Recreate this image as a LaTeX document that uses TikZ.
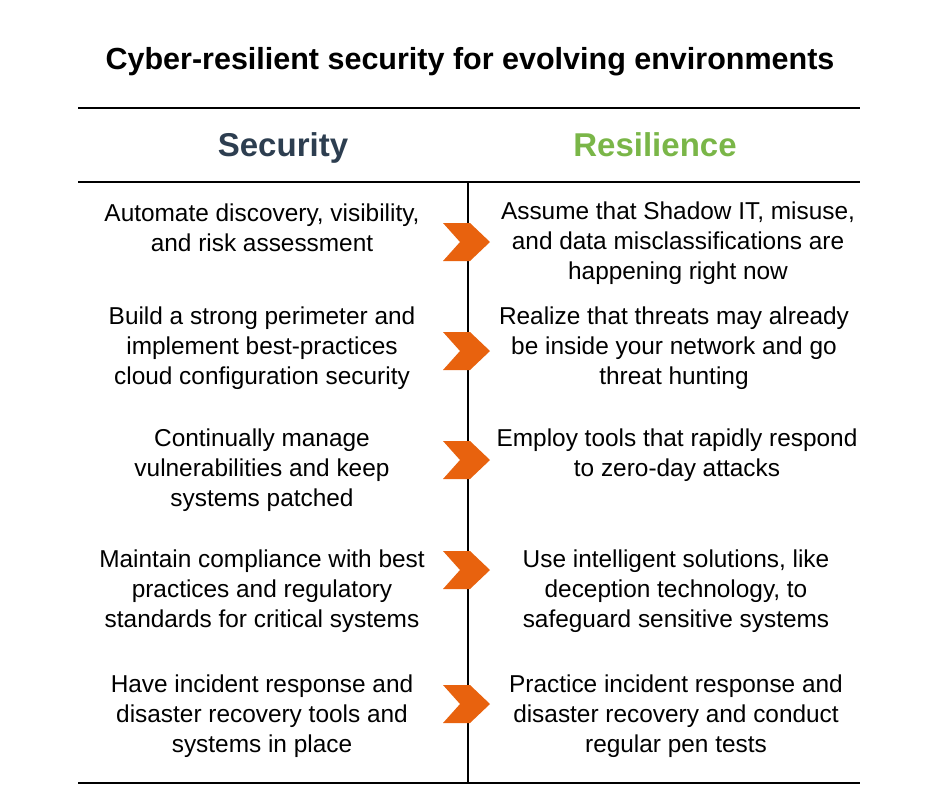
\documentclass[tikz,border=0pt]{standalone}
\usepackage{fontspec}
\setmainfont{Liberation Sans}
\definecolor{navy}{HTML}{2D3E50}
\definecolor{leaf}{HTML}{7AB648}
\definecolor{chev}{HTML}{E8620E}
\begin{document}
\begin{tikzpicture}[x=1pt,y=-1pt,
  body/.style={align=center,font=\fontsize{24.4}{30}\selectfont,inner sep=0pt},
  head/.style={font=\fontsize{33}{36}\selectfont\bfseries,anchor=base},
  rule/.style={line width=1.3pt,black},
  chevron/.style={fill=chev,draw=none}]
\useasboundingbox (0,0) rectangle (940,788);
\node[font=\fontsize{30.5}{34}\selectfont\bfseries] (title) at (470,62) {Cyber-resilient security for evolving environments};
\draw[rule] (78,108) coordinate (t1) -- (860,108) coordinate (t2);
\draw[rule] (78,182) coordinate (m1) -- (860,182) coordinate (m2);
\draw[rule] (78,783) coordinate (b1) -- (860,783) coordinate (b2);
\draw[line width=1.3pt] (468,182) coordinate (v1) -- (468,783) coordinate (v2);
\node[head,text=navy] (sec) at (283,156) {Security};
\node[head,text=leaf] (res) at (655,156) {Resilience};
\foreach \y/\n in {242/c1,351/c2,460/c3,570/c4,704/c5}{
  \fill[chevron] (443,\y-19) -- (470,\y-19) -- (490,\y) -- (470,\y+19) -- (443,\y+19) -- (460,\y) -- cycle;
}
\node[body] (l1) at (262,228) {Automate discovery, visibility,\\and risk assessment};
\node[body] (r1) at (678,243) {Assume that Shadow IT, misuse,\\and data misclassifications are\\happening right now};
\node[body] (l2) at (262,348) {Build a strong perimeter and\\implement best-practices\\cloud configuration security};
\node[body] (r2) at (674,348) {Realize that threats may already\\be inside your network and go\\threat hunting};
\node[body] (l3) at (262,470) {Continually manage\\vulnerabilities and keep\\systems patched};
\node[body] (r3) at (677,455) {Employ tools that rapidly respond\\to zero-day attacks};
\node[body] (l4) at (262,591) {Maintain compliance with best\\practices and regulatory\\standards for critical systems};
\node[body] (r4) at (676,591) {Use intelligent solutions, like\\deception technology, to\\safeguard sensitive systems};
\node[body] (l5) at (262,716) {Have incident response and\\disaster recovery tools and\\systems in place};
\node[body] (r5) at (676,716) {Practice incident response and\\disaster recovery and conduct\\regular pen tests};
\end{tikzpicture}
\end{document}
